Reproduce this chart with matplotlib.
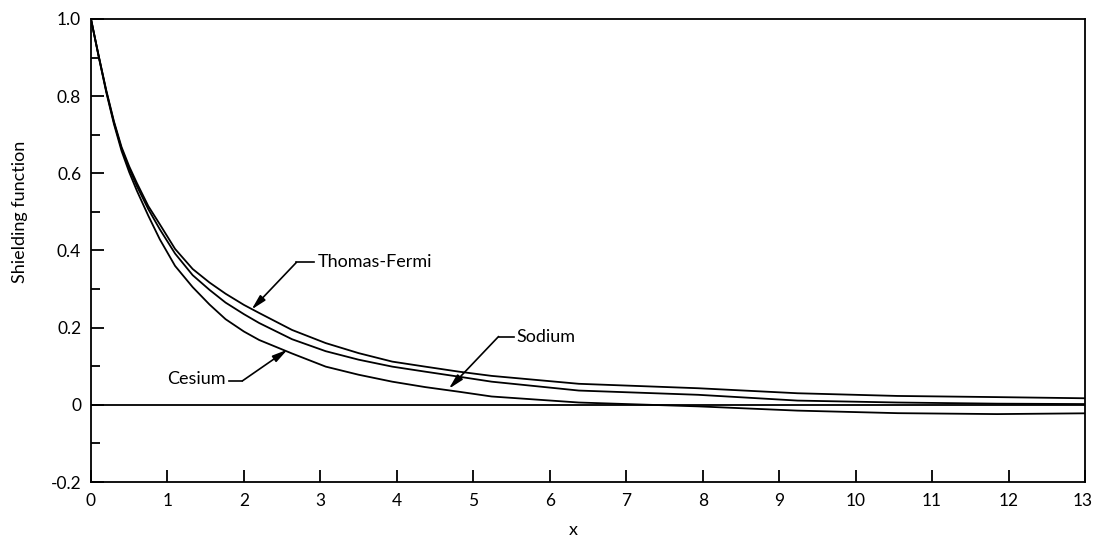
import numpy as np
import matplotlib
matplotlib.use('Agg')
import matplotlib.pyplot as plt
import matplotlib.transforms as mtransforms

matplotlib.rcParams['font.family'] = ['Lato', 'DejaVu Sans']
matplotlib.rcParams['axes.unicode_minus'] = False

# values
x_vals = [0, 0.1, 0.2, 0.3, 0.4, 0.5, 0.6, 0.75, 0.9, 1.1, 1.33, 1.55, 1.76, 2.0,
          2.2, 2.63, 3.07, 3.5, 3.94, 4.37, 4.81, 5.24, 6.38, 7.94, 9.24, 10.55,
          11.85, 13.0]
thomas_fermi = [1.0, 0.905, 0.815, 0.735, 0.668, 0.618, 0.575, 0.515, 0.468, 0.404,
                0.352, 0.317, 0.288, 0.259, 0.238, 0.194, 0.160, 0.134, 0.112,
                0.099, 0.086, 0.075, 0.0545, 0.043, 0.030, 0.023, 0.020, 0.017]
cesium = [1.0, 0.905, 0.813, 0.732, 0.664, 0.612, 0.567, 0.507, 0.455, 0.392,
          0.336, 0.298, 0.265, 0.235, 0.212, 0.170, 0.139, 0.117, 0.099,
          0.086, 0.073, 0.060, 0.037, 0.026, 0.011, 0.006, 0.003, 0.002]
sodium = [1.0, 0.903, 0.810, 0.728, 0.658, 0.603, 0.555, 0.490, 0.429, 0.360,
          0.305, 0.260, 0.222, 0.190, 0.168, 0.133, 0.099, 0.078, 0.060,
          0.046, 0.034, 0.0216, 0.006, -0.004, -0.015, -0.0216, -0.024, -0.022]

x_ticks = list(range(0, 14))
y_ticks = [-0.2, 0, 0.2, 0.4, 0.6, 0.8, 1.0]
y_tick_labels = ['-0.2', '0', '0.2', '0.4', '0.6', '0.8', '1.0']
y_minor = [-0.1, 0.1, 0.3, 0.5, 0.7, 0.9]

fig = plt.figure(figsize=(10.96, 5.42), dpi=100)
ax = fig.add_axes([0.083, 0.1107, 0.9070, 0.8543])

lw = 1.3
ax.plot(x_vals, thomas_fermi, color='black', lw=lw)
ax.plot(x_vals, cesium, color='black', lw=lw)
ax.plot(x_vals, sodium, color='black', lw=lw)
ax.axhline(0, color='black', lw=lw)

ax.set_xlim(0, 13)
ax.set_ylim(-0.2, 1.0)
for s in ax.spines.values():
    s.set_linewidth(lw)

ax.set_xticks(x_ticks)
ax.set_xticklabels([str(t) for t in x_ticks])
ax.set_yticks(y_ticks)
ax.set_yticklabels(y_tick_labels)
ax.set_yticks(y_minor, minor=True)
ax.tick_params(axis='x', direction='in', length=8.6, width=lw, pad=8, labelsize=12.5)
ax.tick_params(axis='y', which='major', direction='in', length=9.4, width=lw,
               pad=7, labelsize=12.5)
ax.tick_params(axis='y', which='minor', direction='in', length=6.5, width=lw)

# keep the last x label inside the canvas
last = ax.get_xticklabels()[-1]
last.set_transform(last.get_transform() +
                   mtransforms.ScaledTranslation(-2 / 72, 0, fig.dpi_scale_trans))

ax.set_ylabel('Shielding function', fontsize=13, va='center')
ax.yaxis.set_label_coords(-0.071, 0.583)
ax.set_xlabel('x', fontsize=13, va='center')
ax.xaxis.set_label_coords(0.485, -0.103)

arrow = dict(arrowstyle='-|>,head_length=0.9,head_width=0.22', color='black',
             lw=1.2, shrinkA=0, shrinkB=0, mutation_scale=10)

# Thomas-Fermi
ax.plot([2.686, 2.92], [0.369, 0.369], color='black', lw=1.2)
ax.annotate('', xy=(2.10, 0.247), xytext=(2.686, 0.369), arrowprops=arrow)
ax.text(2.96, 0.369, 'Thomas-Fermi', fontsize=13, va='center', ha='left')

# Sodium
ax.plot([5.33, 5.53], [0.177, 0.177], color='black', lw=1.2)
ax.annotate('', xy=(4.68, 0.0416), xytext=(5.33, 0.177), arrowprops=arrow)
ax.text(5.57, 0.177, 'Sodium', fontsize=13, va='center', ha='left')

# Cesium
ax.plot([1.81, 1.98], [0.062, 0.062], color='black', lw=1.2)
ax.annotate('', xy=(2.57, 0.143), xytext=(1.98, 0.062), arrowprops=arrow)
ax.text(1.76, 0.066, 'Cesium', fontsize=13, va='center', ha='right')

fig.savefig('out.png', dpi=100)
